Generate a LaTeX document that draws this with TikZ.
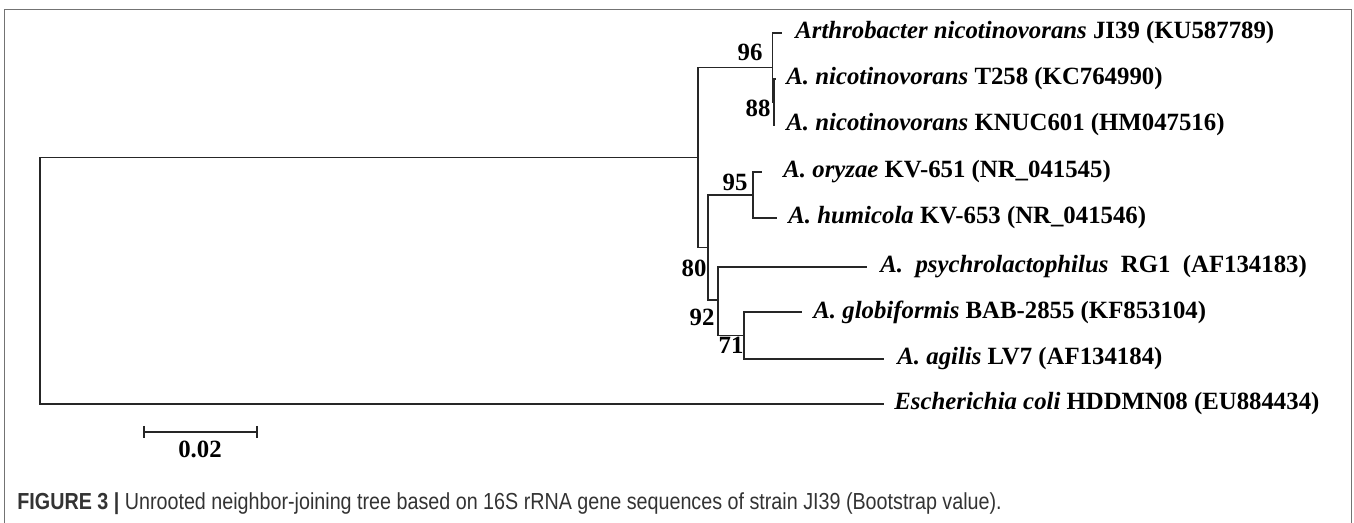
\documentclass[tikz,border=0pt]{standalone}
\usepackage{fontspec}
\setmainfont{Liberation Serif}
\newfontfamily\capfont[FakeStretch=0.85]{Liberation Sans}
\usetikzlibrary{positioning}

\begin{document}
\begin{tikzpicture}[x=.5pt,y=-.5pt,font=\fontsize{12.4}{14}\selectfont\bfseries,
 branch/.style={draw=black!85,line width=.65pt},
 taxon/.style={anchor=west,inner sep=0pt},
 boot/.style={inner sep=0pt}]
\useasboundingbox (0,0) rectangle (1354,523);
\draw[black!55,line width=.8pt] (4.5,523)--(4.5,9.5)--(1351.5,9.5)--(1351.5,523);
% inner nodes of the tree
\coordinate (root) at (40,280.5);
\coordinate (nA) at (698,157.5);
\coordinate (n96) at (772.5,67.5);
\coordinate (n88) at (774,102);
\coordinate (n80) at (708,247.5);
\coordinate (n95) at (753,195);
\coordinate (n92) at (718,300);
\coordinate (n71) at (744,335.5);
% tips
\coordinate (tJI) at (782,33);
\coordinate (tT) at (776,79);
\coordinate (tKN) at (775,125);
\coordinate (tOr) at (762,172);
\coordinate (tHu) at (777,218);
\coordinate (tPs) at (867,267);
\coordinate (tGl) at (802,312);
\coordinate (tAg) at (884,359);
\coordinate (tEc) at (884,404);
\draw[branch] (root)|-(nA) (root)|-(tEc);
\draw[branch] (nA)|-(n96) (nA)|-(n80);
\draw[branch] (n96)|-(tJI) (n96)|-(n88);
\draw[branch] (n88)|-(tT) (n88)|-(tKN);
\draw[branch] (n80)|-(n95) (n80)|-(n92);
\draw[branch] (n95)|-(tOr) (n95)|-(tHu);
\draw[branch] (n92)|-(tPs) (n92)|-(n71);
\draw[branch] (n71)|-(tGl) (n71)|-(tAg);
% taxa
\node[taxon,right=6.5pt of tJI] (lJI) {\textit{Arthrobacter nicotinovorans} JI39 (KU587789)};
\node[taxon,right=5pt of tT] (lT) {\textit{A. nicotinovorans} T258 (KC764990)};
\node[taxon,right=5.5pt of tKN] (lKN) {\textit{A. nicotinovorans} KNUC601 (HM047516)};
\node[taxon,right=10.5pt of tOr] (lOr) {\textit{A. oryzae} KV-651 (NR\_041545)};
\node[taxon,right=5.5pt of tHu] (lHu) {\textit{A. humicola} KV-653 (NR\_041546)};
\node[taxon,right=6.5pt of tPs] (lPs) {\textit{A.\ \ psychrolactophilus}\ \ RG1\ \ (AF134183)};
\node[taxon,right=5.5pt of tGl] (lGl) {\textit{A. globiformis} BAB-2855 (KF853104)};
\node[taxon,right=6.5pt of tAg] (lAg) {\textit{A. agilis} LV7 (AF134184)};
\node[taxon,right=5pt of tEc] (lEc) {\textit{Escherichia coli} HDDMN08 (EU884434)};
% bootstrap values
\node[boot] (b96) at (750,52) {96};
\node[boot] (b88) at (758,108) {88};
\node[boot] (b95) at (735,182) {95};
\node[boot] (b80) at (694,268) {80};
\node[boot] (b92) at (702,317) {92};
\node[boot] (b71) at (731,345) {71};
% scale
\coordinate (sL) at (144,432);
\coordinate (sR) at (257,432);
\draw[branch] (sL)--(sR) ([yshift=3pt]sL)--([yshift=-3pt]sL) ([yshift=3pt]sR)--([yshift=-3pt]sR);
\node[boot] (sT) at (200,449) {0.02};
\node[anchor=west,inner sep=0pt,text=black!80,font=\capfont\fontsize{11.6}{13}\selectfont] (cap) at (17,504)
 {\textbf{FIGURE 3 |} Unrooted neighbor-joining tree based on 16S rRNA gene sequences of strain JI39 (Bootstrap value).};
\end{tikzpicture}
\end{document}
